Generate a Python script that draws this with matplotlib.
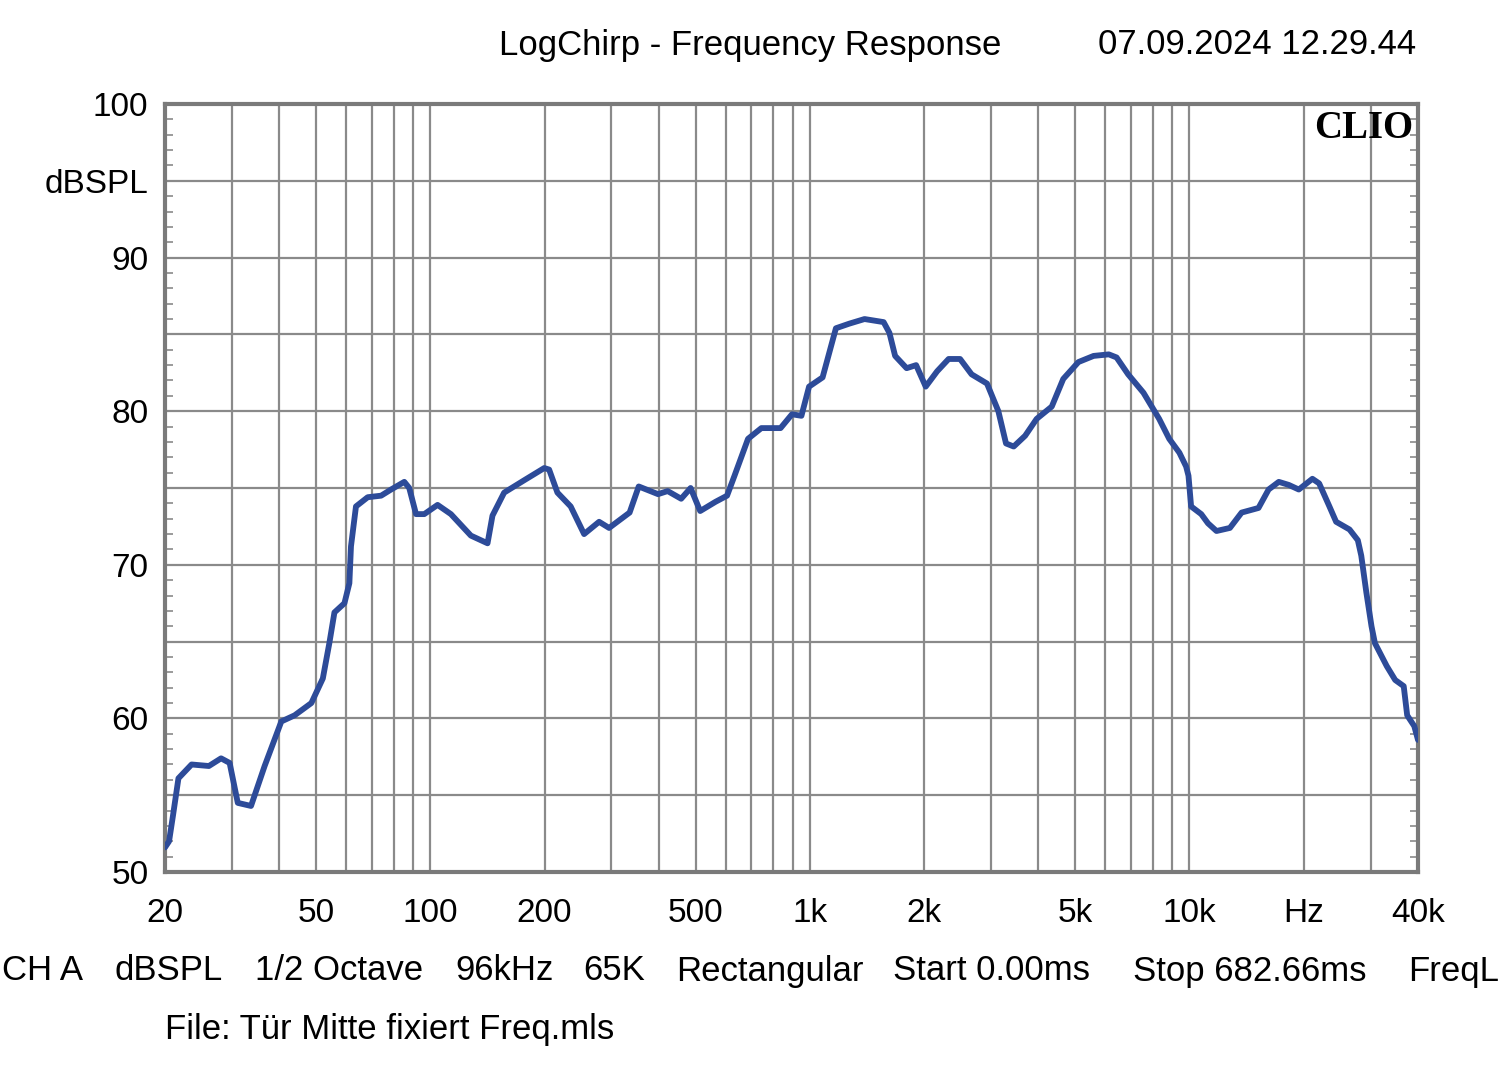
import matplotlib
matplotlib.use('Agg')
import matplotlib.pyplot as plt
from matplotlib.ticker import NullFormatter

# Digitised response (Hz, dBSPL)
freq = [20.0, 20.5, 21.0, 21.7, 23.5, 26.1, 28.1, 29.6, 31.1, 33.7, 36.6, 40.5, 43.9, 48.6,
        52.1, 54.2, 55.9, 59.4, 61.2, 61.8, 63.7, 68.4, 74.2, 78.8, 85.4, 88.0, 91.7, 96.4,
        104.5, 113.3, 127.9, 141.5, 145.8, 156.5, 176.6, 199.6, 205.6, 216.2, 234.3, 254.2,
        278.4, 295.8, 335, 354, 398, 422, 458, 485, 514, 564, 605, 633, 687, 745, 837, 897,
        950, 995, 1080, 1171, 1270, 1393, 1564, 1620, 1677, 1798, 1905, 2019, 2164, 2320,
        2487, 2667, 2928, 3137, 3286, 3443, 3690, 3957, 4337, 4650, 5099, 5590, 6130, 6426,
        6893, 7566, 8320, 8845, 9405, 9798, 9940, 10100, 10740, 11190, 11780, 12780, 13720,
        15200, 16160, 17190, 18270, 19410, 21080, 21960, 23370, 24340, 26400, 27770, 28350,
        29240, 30170, 30800, 33100, 34830, 36680, 37460, 39100, 40000]
spl = [51.6, 52.0, 53.7, 56.1, 57.0, 56.9, 57.4, 57.1, 54.5, 54.3, 56.9, 59.8, 60.2, 61.0,
       62.6, 64.9, 66.9, 67.5, 68.8, 71.2, 73.8, 74.4, 74.5, 74.9, 75.4, 75.0, 73.3, 73.3,
       73.9, 73.3, 71.9, 71.4, 73.2, 74.7, 75.5, 76.3, 76.2, 74.7, 73.8, 72.0,
       72.8, 72.4, 73.4, 75.1, 74.6, 74.8, 74.3, 75.0, 73.5, 74.1, 74.5, 75.8, 78.2, 78.9, 78.9, 79.8,
       79.7, 81.6, 82.2, 85.4, 85.7, 86.0, 85.8, 85.1, 83.6, 82.8, 83.0, 81.6, 82.6, 83.4,
       83.4, 82.4, 81.8, 80.0, 77.9, 77.7, 78.4, 79.5, 80.3, 82.1, 83.2, 83.6, 83.7, 83.5,
       82.4, 81.2, 79.5, 78.2, 77.3, 76.4, 75.8, 73.8, 73.3, 72.7, 72.2, 72.4, 73.4,
       73.7, 74.9, 75.4, 75.2, 74.9, 75.6, 75.3, 73.8, 72.8, 72.3, 71.6, 70.6,
       68.2, 66.0, 64.9, 63.4, 62.5, 62.1, 60.2, 59.5, 58.6]

xtick_pos = [20, 50, 100, 200, 500, 1000, 2000, 5000, 10000, 20000, 40000]
xtick_lab = ['20', '50', '100', '200', '500', '1k', '2k', '5k', '10k', 'Hz', '40k']
xgrid_minor = [30, 40, 60, 70, 80, 90, 300, 400, 600, 700, 800, 900,
               3000, 4000, 6000, 7000, 8000, 9000, 30000]
ytick_pos = [50, 55, 60, 65, 70, 75, 80, 85, 90, 95, 100]
ytick_lab = ['50', '', '60', '', '70', '', '80', '', '90', 'dBSPL', '100']

footer = [('CH A', 2), ('dBSPL', 115), ('1/2 Octave', 255), ('96kHz', 455), ('65K', 583),
          ('Rectangular', 676), ('Start 0.00ms', 893), ('Stop 682.66ms', 1133), ('FreqL', 1408)]

plt.rcParams['font.family'] = ['Liberation Sans', 'DejaVu Sans']
W, H = 1500, 1072
fig = plt.figure(figsize=(W / 100, H / 100), dpi=100)
ax = fig.add_axes([165 / W, 1 - 872 / H, (1418 - 165) / W, (872 - 104) / H])

grid_c = '#8a8a8a'
ax.set_xscale('log')
ax.set_xlim(20, 40000)
ax.set_ylim(50, 100)

ax.set_xticks(xtick_pos)
ax.set_xticklabels(xtick_lab)
ax.set_xticks(xgrid_minor, minor=True)
ax.xaxis.set_minor_formatter(NullFormatter())
ax.set_yticks(ytick_pos)
ax.set_yticklabels(ytick_lab)
ax.set_yticks(range(50, 101), minor=True)

ax.grid(True, which='major', color=grid_c, lw=1.6)
ax.grid(True, which='minor', axis='x', color=grid_c, lw=1.6)
ax.tick_params(axis='x', which='both', length=0, labelsize=24, pad=19)
ax.tick_params(axis='y', which='major', length=0, labelsize=24, pad=12)
ax.tick_params(axis='y', which='minor', length=6, width=1.2, color=grid_c,
               direction='in', left=True, right=True)
for s in ax.spines.values():
    s.set_color('#7a7a7a')
    s.set_linewidth(3)

ax.plot(freq, spl, color='#2d4b99', lw=4.2, solid_joinstyle='round',
        solid_capstyle='round', zorder=3)

ax.text(0.996, 0.992, 'CLIO', transform=ax.transAxes, ha='right', va='top',
        fontsize=28, fontweight='bold', family='Liberation Serif')

fig.text(750 / W, 1 - 45 / H, 'LogChirp - Frequency Response', ha='center', va='center', fontsize=25)
fig.text(1416 / W, 1 - 45 / H, '07.09.2024 12.29.44', ha='right', va='center', fontsize=25)
for label, x in footer:
    fig.text(x / W, 1 - 971 / H, label, ha='left', va='center', fontsize=25)
fig.text(165 / W, 1 - 1030 / H, 'File: Tür Mitte fixiert Freq.mls', ha='left', va='center', fontsize=25)

fig.savefig('out.png', dpi=100)
plt.close(fig)
